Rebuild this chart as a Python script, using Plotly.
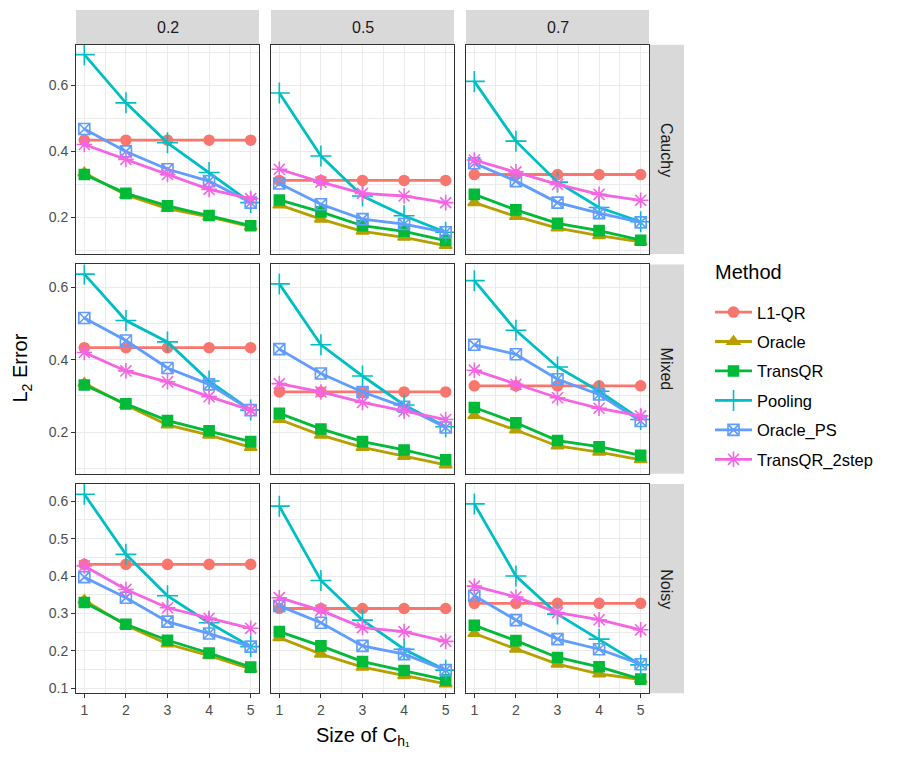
import plotly.graph_objects as go

W, H = 897, 769

x_sizes = [1, 2, 3, 4, 5]
ratios = ["0.2", "0.5", "0.7"]
noises = ["Cauchy", "Mixed", "Noisy"]
methods = ["L1-QR", "Oracle", "TransQR", "Pooling", "Oracle_PS", "TransQR_2step"]

# each list: 9 panels ordered (Cauchy 0.2, 0.5, 0.7, Mixed 0.2, 0.5, 0.7, Noisy 0.2, 0.5, 0.7)
l1_qr = [
    [0.434, 0.434, 0.434, 0.434, 0.434],
    [0.312, 0.312, 0.312, 0.312, 0.312],
    [0.330, 0.330, 0.330, 0.330, 0.330],
    [0.433, 0.433, 0.433, 0.433, 0.433],
    [0.311, 0.311, 0.311, 0.311, 0.311],
    [0.328, 0.328, 0.328, 0.328, 0.328],
    [0.431, 0.431, 0.431, 0.431, 0.431],
    [0.313, 0.313, 0.313, 0.313, 0.313],
    [0.327, 0.327, 0.327, 0.327, 0.327],
]
oracle = [
    [0.335, 0.268, 0.227, 0.202, 0.172],
    [0.238, 0.195, 0.158, 0.140, 0.115],
    [0.245, 0.203, 0.168, 0.145, 0.126],
    [0.335, 0.275, 0.220, 0.192, 0.158],
    [0.235, 0.192, 0.158, 0.133, 0.110],
    [0.246, 0.206, 0.162, 0.145, 0.124],
    [0.335, 0.268, 0.218, 0.187, 0.151],
    [0.235, 0.191, 0.156, 0.133, 0.111],
    [0.246, 0.204, 0.164, 0.138, 0.123],
]
trans_qr = [
    [0.330, 0.273, 0.235, 0.206, 0.175],
    [0.253, 0.217, 0.175, 0.158, 0.130],
    [0.270, 0.223, 0.182, 0.160, 0.131],
    [0.330, 0.278, 0.232, 0.204, 0.174],
    [0.252, 0.209, 0.174, 0.151, 0.124],
    [0.268, 0.226, 0.177, 0.160, 0.136],
    [0.329, 0.271, 0.228, 0.194, 0.156],
    [0.251, 0.213, 0.171, 0.147, 0.122],
    [0.268, 0.227, 0.182, 0.157, 0.124],
]
pooling = [
    [0.693, 0.547, 0.426, 0.336, 0.245],
    [0.577, 0.386, 0.265, 0.205, 0.155],
    [0.612, 0.431, 0.307, 0.230, 0.187],
    [0.636, 0.508, 0.449, 0.341, 0.261],
    [0.609, 0.441, 0.355, 0.275, 0.215],
    [0.618, 0.481, 0.380, 0.313, 0.235],
    [0.619, 0.458, 0.347, 0.275, 0.211],
    [0.587, 0.388, 0.282, 0.204, 0.148],
    [0.593, 0.400, 0.298, 0.231, 0.162],
]
oracle_ps = [
    [0.468, 0.400, 0.346, 0.310, 0.245],
    [0.303, 0.240, 0.195, 0.180, 0.155],
    [0.364, 0.310, 0.245, 0.213, 0.185],
    [0.515, 0.453, 0.377, 0.332, 0.261],
    [0.429, 0.362, 0.311, 0.270, 0.213],
    [0.441, 0.415, 0.346, 0.304, 0.231],
    [0.397, 0.342, 0.278, 0.246, 0.211],
    [0.320, 0.275, 0.213, 0.191, 0.148],
    [0.347, 0.282, 0.231, 0.204, 0.164],
]
trans_qr_2step = [
    [0.421, 0.376, 0.330, 0.285, 0.257],
    [0.346, 0.307, 0.273, 0.265, 0.245],
    [0.374, 0.338, 0.300, 0.270, 0.252],
    [0.420, 0.369, 0.339, 0.298, 0.261],
    [0.334, 0.311, 0.282, 0.258, 0.235],
    [0.371, 0.332, 0.295, 0.266, 0.245],
    [0.427, 0.364, 0.315, 0.287, 0.260],
    [0.342, 0.308, 0.262, 0.251, 0.225],
    [0.373, 0.344, 0.302, 0.283, 0.256],
]

series = [l1_qr, oracle, trans_qr, pooling, oracle_ps, trans_qr_2step]
colors = ["#F8766D", "#B79F00", "#00BA38", "#00BFC4", "#619CFF", "#F564E3"]
symbols = ["circle", "triangle-up", "square", "cross-thin-open", "square-x-open", "asterisk-open"]
msizes = [10, 11, 10, 15, 11, 13]

# layout in pixels
col_px = [(76, 259), (271, 454), (466, 649)]
row_px = [(45, 255), (265.5, 475.5), (486, 696)]
y_ranges = [(0.0893, 0.7228), (0.0857, 0.6626), (0.0861, 0.646)]
y_dticks = [0.2, 0.2, 0.1]
strip_w = 35

FONT = "Liberation Sans, Arial, sans-serif"
TICK = dict(size=14, color="#4D4D4D", family=FONT)
STRIP = dict(size=16, color="#1A1A1A", family=FONT)
TITLE = dict(size=20, color="#000000", family=FONT)

fig = go.Figure()

for r in range(3):
    for c in range(3):
        k = r * 3 + c
        ax = "" if k == 0 else str(k + 1)
        for m, name in enumerate(methods):
            fig.add_trace(go.Scatter(
                x=x_sizes, y=series[m][k], mode="lines+markers", name=name,
                legendgroup=name, showlegend=(k == 0),
                line=dict(color=colors[m], width=2.8),
                marker=dict(symbol=symbols[m], size=msizes[m], color=colors[m],
                            line=dict(color=colors[m], width=1.6)),
                xaxis="x" + ax, yaxis="y" + ax,
            ))
        x0, x1 = col_px[c]
        y0, y1 = row_px[r]
        bottom = (r == 2)
        left = (c == 0)
        fig.update_layout(**{
            "xaxis" + ax: dict(
                domain=[x0 / W, x1 / W], anchor="y" + ax, range=[0.8, 5.2],
                tickmode="linear", tick0=1, dtick=1,
                showticklabels=bottom, ticks="outside" if bottom else "",
                ticklen=4, tickcolor="#333333", tickwidth=1, tickfont=TICK,
                showgrid=True, gridcolor="#EBEBEB", gridwidth=1.1,
                minor=dict(tick0=0.5, dtick=1, showgrid=True, gridcolor="#EBEBEB", gridwidth=0.55),
                showline=True, mirror=True, linecolor="#333333", linewidth=1,
                zeroline=False, fixedrange=True,
            ),
            "yaxis" + ax: dict(
                domain=[1 - y1 / H, 1 - y0 / H], anchor="x" + ax, range=list(y_ranges[r]),
                tickmode="linear", tick0=0, dtick=y_dticks[r],
                showticklabels=left, ticks="outside" if left else "",
                ticklen=4, tickcolor="#333333", tickwidth=1, tickfont=TICK,
                showgrid=True, gridcolor="#EBEBEB", gridwidth=1.1,
                minor=dict(tick0=y_dticks[r] / 2, dtick=y_dticks[r], showgrid=True,
                           gridcolor="#EBEBEB", gridwidth=0.55),
                showline=True, mirror=True, linecolor="#333333", linewidth=1,
                zeroline=False, fixedrange=True,
            ),
        })

shapes = []
annotations = []
for c in range(3):
    x0, x1 = col_px[c]
    shapes.append(dict(type="rect", xref="paper", yref="paper",
                       x0=x0 / W, x1=x1 / W, y0=1 - 45 / H, y1=1 - 10 / H,
                       fillcolor="#D9D9D9", line=dict(width=0), layer="below"))
    annotations.append(dict(xref="paper", yref="paper", x=(x0 + x1) / 2 / W, y=1 - 28 / H,
                            xanchor="center", yanchor="middle",
                            text=ratios[c], showarrow=False, font=STRIP))
for r in range(3):
    y0, y1 = row_px[r]
    sx0 = col_px[2][1]
    shapes.append(dict(type="rect", xref="paper", yref="paper",
                       x0=sx0 / W, x1=(sx0 + strip_w) / W, y0=1 - y1 / H, y1=1 - y0 / H,
                       fillcolor="#D9D9D9", line=dict(width=0), layer="below"))
    annotations.append(dict(xref="paper", yref="paper", x=(sx0 + strip_w / 2) / W,
                            y=1 - (y0 + y1) / 2 / H, xanchor="center", yanchor="middle",
                            text=noises[r], textangle=90, showarrow=False, font=STRIP))

annotations.append(dict(xref="paper", yref="paper", x=(76 + 649) / 2 / W, y=1 - 739 / H,
                        xanchor="center", yanchor="middle",
                        text="Size of C<sub>h₁</sub>", showarrow=False, font=TITLE))
annotations.append(dict(xref="paper", yref="paper", x=22 / W, y=1 - 370 / H,
                        xanchor="center", yanchor="middle",
                        text="L<sub>2</sub> Error", textangle=-90, showarrow=False, font=TITLE))
annotations.append(dict(xref="paper", yref="paper", x=713 / W, y=1 - 273 / H,
                        xanchor="left", yanchor="middle",
                        text="Method", showarrow=False, font=TITLE))

fig.update_layout(
    width=W, height=H, margin=dict(l=0, r=0, t=0, b=0),
    paper_bgcolor="white", plot_bgcolor="white",
    shapes=shapes, annotations=annotations,
    font=dict(family=FONT),
    legend=dict(
        x=710 / W, y=1 - 296 / H, xanchor="left", yanchor="top",
        font=dict(size=16.5, color="#000000", family=FONT),
        tracegroupgap=5, itemwidth=37, bgcolor="rgba(0,0,0,0)",
    ),
)

fig.write_html("out.html", config={"displayModeBar": False},
               post_script="document.body.style.margin='0';document.body.style.overflow='hidden';")
